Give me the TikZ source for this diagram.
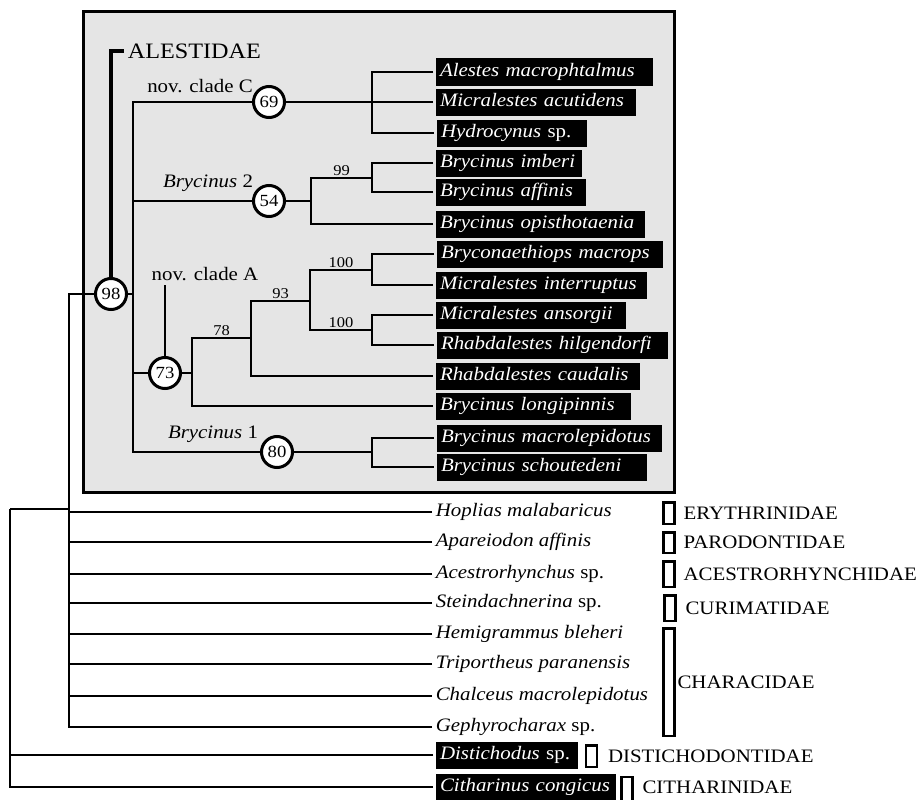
\documentclass[tikz,border=0pt]{standalone}
\usepackage{fontspec}
\setmainfont{Liberation Serif}[FakeStretch=1.1]
\usetikzlibrary{positioning}
\hyphenpenalty=10000

\begin{document}
\begin{tikzpicture}[x=1pt,y=-1pt,line width=1.6pt,
  leaf/.style={anchor=west,fill=black,text=white,inner xsep=4pt,inner ysep=0pt,outer xsep=3pt,
    text width=#1,align=left,minimum height=27pt,text height=13pt,text depth=4pt,
    font=\fontsize{19}{19}\selectfont\itshape},
  outg/.style={anchor=west,inner xsep=3pt,font=\fontsize{19}{19}\selectfont\itshape},
  boot/.style={circle,draw,fill=white,line width=3pt,minimum size=31pt,inner sep=0pt,font=\fontsize{17}{17}\selectfont},
  bs/.style={above,inner sep=2pt,font=\fontsize{15}{15}\selectfont},
  clade/.style={font=\fontsize{19}{19}\selectfont},
  brk/.style={draw,line width=2.5pt,minimum width=11pt,inner sep=0pt},
  fam/.style={inner sep=0pt,font=\fontsize{19}{19}\selectfont}]

  \useasboundingbox (0,0) rectangle (921,800);
  \draw[line width=3pt,fill=black!10] (83,12) rectangle (674,492);

  \node[leaf=209pt] (l1) at (433,72) {Alestes macrophtalmus};
  \node[leaf=192pt] (l2) at (433,102) {Micralestes acutidens};
  \node[leaf=142pt] (l3) at (434,133) {Hydrocynus {\upshape sp.}};
  \node[leaf=138pt] (l4) at (433,163) {Brycinus imberi};
  \node[leaf=142pt] (l5) at (433,192) {Brycinus affinis};
  \node[leaf=201pt] (l6) at (433,224) {Brycinus opisthotaenia};
  \node[leaf=218pt] (l7) at (434,254) {Bryconaethiops macrops};
  \node[leaf=203pt] (l8) at (433,285) {Micralestes interruptus};
  \node[leaf=182pt] (l9) at (433,315) {Micralestes ansorgii};
  \node[leaf=223pt] (l10) at (434,345) {Rhabdalestes hilgendorfi};
  \node[leaf=196pt] (l11) at (433,376) {Rhabdalestes caudalis};
  \node[leaf=187pt] (l12) at (433,406) {Brycinus longipinnis};
  \node[leaf=217pt] (l13) at (434,438) {Brycinus macrolepidotus};
  \node[leaf=202pt] (l14) at (434,467) {Brycinus schoutedeni};

  \node[outg] (o1) at (432,512) {Hoplias malabaricus};
  \node[outg] (o2) at (432,542) {Apareiodon affinis};
  \node[outg] (o3) at (432,574) {Acestrorhynchus {\upshape sp.}};
  \node[outg] (o4) at (432,603) {Steindachnerina {\upshape sp.}};
  \node[outg] (o5) at (432,634) {Hemigrammus bleheri};
  \node[outg] (o6) at (432,664) {Triportheus paranensis};
  \node[outg] (o7) at (432,696) {Chalceus macrolepidotus};
  \node[outg] (o8) at (432,727) {Gephyrocharax {\upshape sp.}};
  \node[leaf=134pt] (o9) at (433,755) {Distichodus {\upshape sp.}};
  \node[leaf=172pt] (o10) at (433,787) {Citharinus congicus};

  \node[boot] (n98) at (111,294) {98};
  \node[boot] (n69) at (269,102) {69};
  \node[boot] (n54) at (269,201) {54};
  \node[boot] (n73) at (165,373) {73};
  \node[boot] (n80) at (277,452) {80};

  \coordinate (sp) at (133,294);
  \coordinate (pC) at (372,102);
  \coordinate (p99) at (372,178);
  \coordinate (p54) at (311,201);
  \coordinate (pA) at (192,373);
  \coordinate (p78) at (251,338);
  \coordinate (p93) at (310,301);
  \coordinate (p100a) at (372,270);
  \coordinate (p100b) at (372,330);
  \coordinate (p80) at (372,452);
  \coordinate (r1) at (69,509);
  \coordinate (r0) at (10,509);

  \node[clade] (labC) at (200,86) {nov. clade C};
  \node[clade] (lab2) at (208,183) {\textit{Brycinus} 2};
  \node[clade] (labA) at (205,274) {nov. clade A};
  \node[clade] (lab1) at (213,434) {\textit{Brycinus} 1};
  \node[anchor=west,inner sep=3pt,font=\fontsize{22}{22}\selectfont] (alest) at (124,51) {ALESTIDAE};

  \node[brk,minimum height=21.5pt] (f1) at (669,513) {};
  \node[brk,minimum height=20.5pt] (f2) at (669,542.5) {};
  \node[brk,minimum height=25.5pt] (f3) at (669,574) {};
  \node[brk,minimum height=25.5pt] (f4) at (670,608) {};
  \node[brk,minimum height=107.5pt] (f5) at (669,682) {};
  \node[brk,minimum height=21.5pt] (f6) at (591.5,756) {};
  \node[brk,minimum height=28pt] (f7) at (627,791) {};
  \node[fam,right=7pt of f1] (t1) {ERYTHRINIDAE};
  \node[fam,right=7pt of f2] (t2) {PARODONTIDAE};
  \node[fam,right=7pt of f3] (t3) {ACESTRORHYNCHIDAE};
  \node[fam,right=8pt of f4] (t4) {CURIMATIDAE};
  \node[fam,right=1pt of f5] (t5) {CHARACIDAE};
  \node[fam,right=9pt of f6] (t6) {DISTICHODONTIDAE};
  \node[fam,right=8pt of f7.east |- o10] (t7) {CITHARINIDAE};

  \draw (l1) -| (pC) |- (l3);
  \draw (n69) -- (l2);
  \draw (l4) -| (p99) |- (l5);
  \draw (p99) -| (p54) node[bs,pos=.25]{99} |- (l6);
  \draw (n54) -- (p54);
  \draw (l7) -| (p100a) |- (l8);
  \draw (l9) -| (p100b) |- (l10);
  \draw (p93) |- (p100a) node[bs,pos=.75]{100};
  \draw (p93) |- (p100b) node[bs,pos=.75]{100};
  \draw (p78) |- (p93) node[bs,pos=.75]{93};
  \draw (p78) |- (l11);
  \draw (pA) |- (p78) node[bs,pos=.75]{78};
  \draw (pA) |- (l12);
  \draw (n73) -- (pA);
  \draw (n73) -- (n73 |- labA.south);
  \draw (l13) -| (p80) |- (l14);
  \draw (n80) -- (p80);
  \draw (n69) -| (sp) |- (n80);
  \draw (n54) -| (sp);
  \draw (n73) -| (sp);
  \draw (n98) -- (sp);
  \draw[line width=3.5pt] (n98) |- (alest);
  \draw (n98) -| (r1);
  \foreach \i in {1,...,8}
    \draw (o\i) -| (r1);
  \draw (r1) -- (r0);
  \draw (o9) -| (r0);
  \draw (o10) -| (r0);
\end{tikzpicture}
\end{document}
